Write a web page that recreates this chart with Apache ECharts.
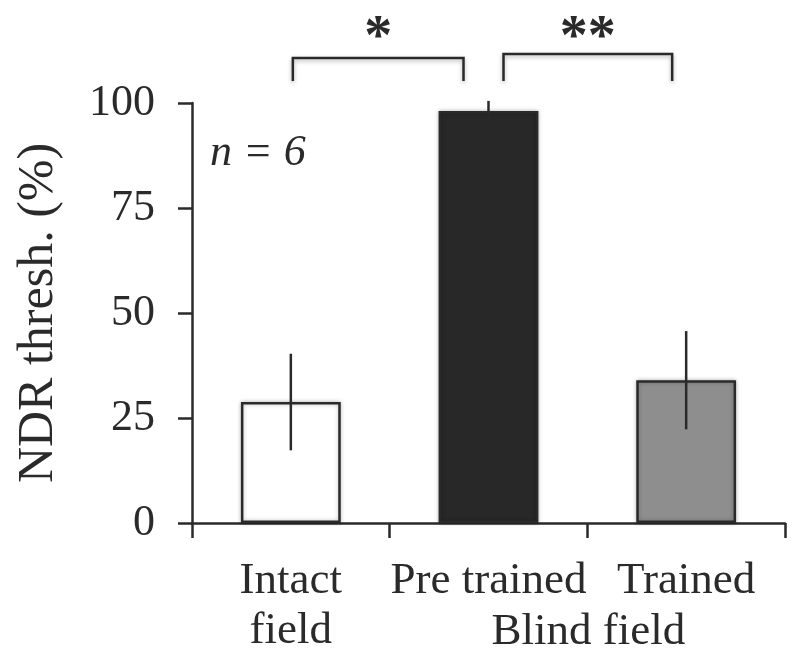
<!DOCTYPE html>
<html>
<head>
<meta charset="utf-8">
<script src="https://cdn.jsdelivr.net/npm/echarts@6/dist/echarts.min.js"></script>
<style>html,body{margin:0;padding:0;background:#fff;}#c{width:800px;height:666px;}</style>
</head>
<body>
<div id="c"></div>
<script>
const categories = ['Intact\nfield', 'Pre trained', 'Trained'];
const means = [28.8, 98.1, 34.0];
const errors = [11.5, 2.4, 11.7];
const barColors = ['#ffffff', '#282828', '#8e8e8e'];
const yTicks = [0, 25, 50, 75, 100];
const groupLabel = 'Blind field';
const comparisons = [{from: 0, to: 1, text: '*'}, {from: 1, to: 2, text: '**'}];

const FONT = '"Liberation Serif", "Times New Roman", serif';
const INK = '#2a2a2a';

const chart = echarts.init(document.getElementById('c'), null, {renderer: 'canvas'});
const option = {
  animation: false,
  backgroundColor: '#fff',
  grid: {left: 192, right: 15, top: 103, bottom: 143, containLabel: false},
  xAxis: {
    type: 'category',
    data: categories,
    boundaryGap: true,
    axisLine: {lineStyle: {color: INK, width: 2.5}},
    axisTick: {show: true, length: 15, alignWithLabel: false, lineStyle: {color: INK, width: 2.5}},
    axisLabel: {color: INK, fontFamily: FONT, fontSize: 45, lineHeight: 50, margin: 33, interval: 0, verticalAlign: 'top'}
  },
  yAxis: {
    type: 'value',
    min: 0, max: 100, interval: 25,
    name: 'NDR thresh. (%)',
    nameLocation: 'middle',
    nameGap: 128,
    nameRotate: 90,
    nameTextStyle: {color: INK, fontFamily: FONT, fontSize: 50},
    axisLine: {show: true, lineStyle: {color: INK, width: 2.5}},
    axisTick: {show: true, length: 14, inside: false, lineStyle: {color: INK, width: 2.5}},
    axisLabel: {color: INK, fontFamily: FONT, fontSize: 44, margin: 37,
      formatter: v => yTicks.indexOf(v) >= 0 ? String(v) : ''},
    splitLine: {show: false}
  },
  series: [
    {
      type: 'bar',
      barWidth: '50.5%',
      data: means.map((v, i) => ({value: v, itemStyle: {color: barColors[i]}})),
      itemStyle: {borderColor: INK, borderWidth: 2.5, shadowColor: 'rgba(0,0,0,0.25)', shadowBlur: 4, shadowOffsetX: 0},
      z: 2
    },
    {
      type: 'custom',
      data: means.map((v, i) => [i, v - errors[i], v + errors[i]]),
      renderItem: function (params, api) {
        const x = api.coord([api.value(0), 0])[0];
        const lo = api.coord([api.value(0), api.value(1)])[1];
        const hi = api.coord([api.value(0), api.value(2)])[1];
        return {type: 'line', shape: {x1: x, y1: lo, x2: x, y2: hi}, style: {stroke: INK, lineWidth: 2.5}};
      },
      clip: false,
      z: 3
    }
  ]
};
chart.setOption(option);

function px(i, v) { return chart.convertToPixel({xAxisIndex: 0, yAxisIndex: 0}, [i, v]); }
const graphics = [];
// n label
graphics.push({type: 'text', x: 210, y: 153, style: {text: 'n = 6', fill: INK, font: 'italic 44px ' + FONT, verticalAlign: 'middle'}});
// group label
const gx = (px(1, 0)[0] + px(2, 0)[0]) / 2 + 1;
graphics.push({type: 'text', x: gx, y: 632, style: {text: groupLabel, fill: INK, font: '45px ' + FONT, align: 'center', verticalAlign: 'middle'}});
// brackets
const bracketSpecs = [
  {offL: 2, offR: -25, top: 58},
  {offL: 15, offR: -14, top: 54}
];
comparisons.forEach((c, k) => {
  const s = bracketSpecs[k];
  const xl = px(c.from, 0)[0] + s.offL;
  const xr = px(c.to, 0)[0] + s.offR;
  const yb = 81;
  graphics.push({type: 'polyline', shape: {points: [[xl, yb], [xl, s.top], [xr, s.top], [xr, yb]]},
    style: {stroke: INK, lineWidth: 2.5, fill: null, shadowColor: 'rgba(0,0,0,0.3)', shadowBlur: 4, shadowOffsetY: 2}});
  graphics.push({type: 'text', x: (xl + xr) / 2, y: 40, style: {text: c.text, fill: INK, font: 'bold 56px ' + FONT, align: 'center', verticalAlign: 'middle'}});
});
chart.setOption({graphic: graphics});
</script>
</body>
</html>
